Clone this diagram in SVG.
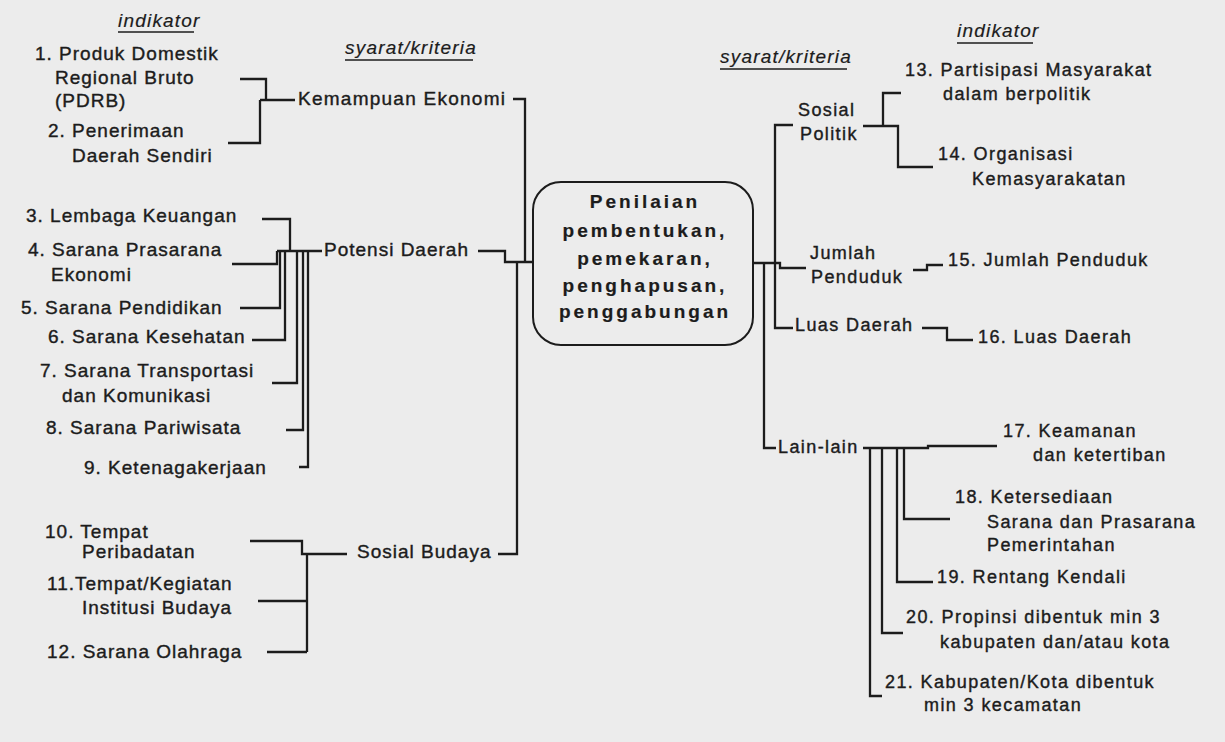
<svg xmlns="http://www.w3.org/2000/svg" width="1225" height="742" viewBox="0 0 1225 742">
<style>
text{font-family:"Liberation Sans",Arial,sans-serif;fill:#1c1c1c;stroke:#1c1c1c;stroke-width:0.4px}
.l{font-size:19px;letter-spacing:1px}
.r{font-size:18px;letter-spacing:1.4px}
.h{font-size:19px;letter-spacing:1.2px;font-style:italic;stroke-width:0.2px}
.c{font-size:19px;letter-spacing:3px;font-weight:bold;text-anchor:middle;stroke-width:0.2px}
.ul{stroke:#1c1c1c;stroke-width:1.6}
.cn{fill:none;stroke:#1c1c1c;stroke-width:2.3;stroke-linejoin:miter}
</style>
<rect width="1225" height="742" fill="#ececec"/>
<g id="headers">
<g id="hdr-indikator-left"><text class="h" x="118" y="27">indikator</text><line class="ul" x1="118" y1="32" x2="194" y2="32"/></g>
<g id="hdr-syarat-left"><text class="h" x="345" y="54">syarat/kriteria</text><line class="ul" x1="345" y1="60" x2="473" y2="60"/></g>
<g id="hdr-syarat-right"><text class="h" x="720" y="63">syarat/kriteria</text><line class="ul" x1="720" y1="69" x2="847" y2="69"/></g>
<g id="hdr-indikator-right"><text class="h" x="957" y="37">indikator</text><line class="ul" x1="957" y1="43" x2="1033" y2="43"/></g>
</g>
<g id="connectors">
<path class="cn" d="M240,79 H266 V100 M228,143 H260 V100 M260,100 H295"/>
<path class="cn" d="M513,99 H525 V263"/>
<path class="cn" d="M262,219 H290 V251 M232,264 H277 V251 M277,251 H322 M240,308 H280 V251 M252,340 H285 V251 M272,383 H297 V251 M286,430 H303 V251 M299,467 H308 V251"/>
<path class="cn" d="M478,251 H505 V262 H533"/>
<path class="cn" d="M250,541 H302 V554 H347 M307,554 V652 M258,601 H307 M267,652 H307"/>
<path class="cn" d="M498,554 H517 V262"/>
<path class="cn" d="M753,263 H780 V268 H806"/>
<path class="cn" d="M793,125 H775 V328 H793"/>
<path class="cn" d="M764,263 V448 H776"/>
<path class="cn" d="M863,126 H898 V167 H933 M883,126 V93 H901"/>
<path class="cn" d="M913,270 H927 V265 H943"/>
<path class="cn" d="M922,328 H947 V340 H973"/>
<path class="cn" d="M863,448 H928 V446 H997"/>
<path class="cn" d="M870,448 V696 H882 M882,448 V633 H903 M897,448 V582 H933 M904,448 V519 H950"/>
</g>
<g id="center">
<rect x="533" y="182" width="220" height="163" rx="28" fill="none" stroke="#1c1c1c" stroke-width="2"/>
<text class="c" x="645" y="208">Penilaian</text>
<text class="c" x="645" y="237">pembentukan,</text>
<text class="c" x="645" y="265">pemekaran,</text>
<text class="c" x="645" y="292">penghapusan,</text>
<text class="c" x="645" y="318">penggabungan</text>
</g>
<g id="kemampuan-ekonomi"><text class="l" x="298" y="105" style="letter-spacing:1.25px">Kemampuan Ekonomi</text></g>
<g id="potensi-daerah"><text class="l" x="324" y="256">Potensi Daerah</text></g>
<g id="sosial-budaya"><text class="l" x="357" y="558">Sosial Budaya</text></g>
<g id="ind-1"><text class="l" x="35" y="60">1. Produk Domestik</text><text class="l" x="55" y="84">Regional Bruto</text><text class="l" x="55" y="107">(PDRB)</text></g>
<g id="ind-2"><text class="l" x="48" y="137">2. Penerimaan</text><text class="l" x="72" y="162">Daerah Sendiri</text></g>
<g id="ind-3"><text class="l" x="26" y="222">3. Lembaga Keuangan</text></g>
<g id="ind-4"><text class="l" x="28" y="256">4. Sarana Prasarana</text><text class="l" x="51" y="281">Ekonomi</text></g>
<g id="ind-5"><text class="l" x="21" y="314">5. Sarana Pendidikan</text></g>
<g id="ind-6"><text class="l" x="48" y="343">6. Sarana Kesehatan</text></g>
<g id="ind-7"><text class="l" x="40" y="377">7. Sarana Transportasi</text><text class="l" x="62" y="402">dan Komunikasi</text></g>
<g id="ind-8"><text class="l" x="46" y="434">8. Sarana Pariwisata</text></g>
<g id="ind-9"><text class="l" x="84" y="474">9. Ketenagakerjaan</text></g>
<g id="ind-10"><text class="l" x="45" y="538">10. Tempat</text><text class="l" x="82" y="558">Peribadatan</text></g>
<g id="ind-11"><text class="l" x="47" y="590">11.Tempat/Kegiatan</text><text class="l" x="82" y="614">Institusi Budaya</text></g>
<g id="ind-12"><text class="l" x="47" y="658">12. Sarana Olahraga</text></g>
<g id="sosial-politik"><text class="r" x="798" y="116">Sosial</text><text class="r" x="800" y="140">Politik</text></g>
<g id="jumlah-penduduk"><text class="r" x="810" y="259">Jumlah</text><text class="r" x="811" y="283">Penduduk</text></g>
<g id="luas-daerah"><text class="r" x="795" y="331">Luas Daerah</text></g>
<g id="lain-lain"><text class="r" x="778" y="453">Lain-lain</text></g>
<g id="ind-13"><text class="r" x="905" y="76">13. Partisipasi Masyarakat</text><text class="r" x="943" y="100">dalam berpolitik</text></g>
<g id="ind-14"><text class="r" x="938" y="160">14. Organisasi</text><text class="r" x="972" y="185">Kemasyarakatan</text></g>
<g id="ind-15"><text class="r" x="948" y="266">15. Jumlah Penduduk</text></g>
<g id="ind-16"><text class="r" x="978" y="343">16. Luas Daerah</text></g>
<g id="ind-17"><text class="r" x="1003" y="437">17. Keamanan</text><text class="r" x="1033" y="461">dan ketertiban</text></g>
<g id="ind-18"><text class="r" x="955" y="503">18. Ketersediaan</text><text class="r" x="987" y="528">Sarana dan Prasarana</text><text class="r" x="987" y="551">Pemerintahan</text></g>
<g id="ind-19"><text class="r" x="937" y="583">19. Rentang Kendali</text></g>
<g id="ind-20"><text class="r" x="906" y="623">20. Propinsi dibentuk min 3</text><text class="r" x="940" y="648">kabupaten dan/atau kota</text></g>
<g id="ind-21"><text class="r" x="885" y="688">21. Kabupaten/Kota dibentuk</text><text class="r" x="924" y="711">min 3 kecamatan</text></g>
</svg>
